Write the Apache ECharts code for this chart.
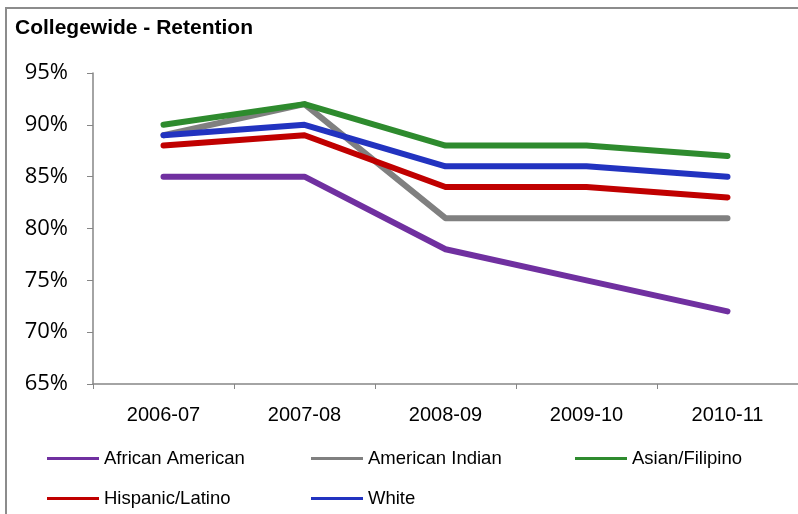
<!DOCTYPE html>
<html>
<head>
<meta charset="utf-8">
<script src="https://cdn.jsdelivr.net/npm/echarts@6/dist/echarts.min.js"></script>
<style>
  html, body { margin: 0; padding: 0; background: #fff; }
  #chart { width: 798px; height: 514px; }
</style>
</head>
<body>
<div id="chart"></div>
<script>
// data
const years = ['2006-07', '2007-08', '2008-09', '2009-10', '2010-11']
const africanAmerican = [85, 85, 78, 75, 72]
const americanIndian = [89, 92, 81, 81, 81]
const asianFilipino = [90, 92, 88, 88, 87]
const hispanicLatino = [88, 89, 84, 84, 83]
const white = [89, 90, 86, 86, 85]

const seriesNames = ['African American', 'American Indian', 'Asian/Filipino', 'Hispanic/Latino', 'White']
const seriesData = [africanAmerican, americanIndian, asianFilipino, hispanicLatino, white]
const colors = ['#7030a0', '#808080', '#2e8b2e', '#c00000', '#2233c0']

// legend positions (two rows, three columns)
const legendPos = [[42, 444], [306, 444], [570, 444], [42, 484], [306, 484]]

const chart = echarts.init(document.getElementById('chart'))

const legends = seriesNames.map((name, i) => ({
  data: [name],
  left: legendPos[i][0],
  top: legendPos[i][1],
  icon: 'rect',
  itemWidth: 52,
  itemHeight: 3,
  textStyle: { fontFamily: 'Liberation Sans', fontSize: 18.5, color: '#000' }
}))

chart.setOption({
  animation: false,
  color: colors,
  title: {
    text: 'Collegewide - Retention',
    left: 10,
    top: 13,
    textStyle: { fontFamily: 'Liberation Sans', fontSize: 21, fontWeight: 'bold', color: '#000' }
  },
  graphic: [{
    type: 'rect',
    shape: { x: 6, y: 8, width: 820, height: 540 },
    style: { fill: null, stroke: '#8c8c8c', lineWidth: 2 },
    silent: true
  }],
  legend: legends,
  grid: { left: 93, top: 73, width: 715, height: 311 },
  xAxis: {
    type: 'category',
    data: years,
    boundaryGap: true,
    axisLine: { lineStyle: { color: '#868686', width: 1.5 } },
    axisTick: { show: true, length: 5, lineStyle: { color: '#868686' } },
    axisLabel: { fontFamily: 'Liberation Sans', fontSize: 20, color: '#000', margin: 21 }
  },
  yAxis: {
    type: 'value',
    min: 65,
    max: 95,
    interval: 5,
    splitLine: { show: false },
    axisLine: { show: true, lineStyle: { color: '#868686', width: 1.5 } },
    axisTick: { show: true, length: 6, lineStyle: { color: '#868686' } },
    axisLabel: {
      fontFamily: 'Open Sans',
      fontSize: 22,
      color: '#000',
      margin: 25,
      padding: [3, 0, 0, 0],
      formatter: v => v + '%'
    }
  },
  series: seriesNames.map((name, i) => ({
    name: name,
    type: 'line',
    data: seriesData[i],
    symbol: 'none',
    lineStyle: { width: 6, cap: 'round', join: 'round', color: colors[i] },
    itemStyle: { color: colors[i] }
  }))
})
</script>
</body>
</html>
